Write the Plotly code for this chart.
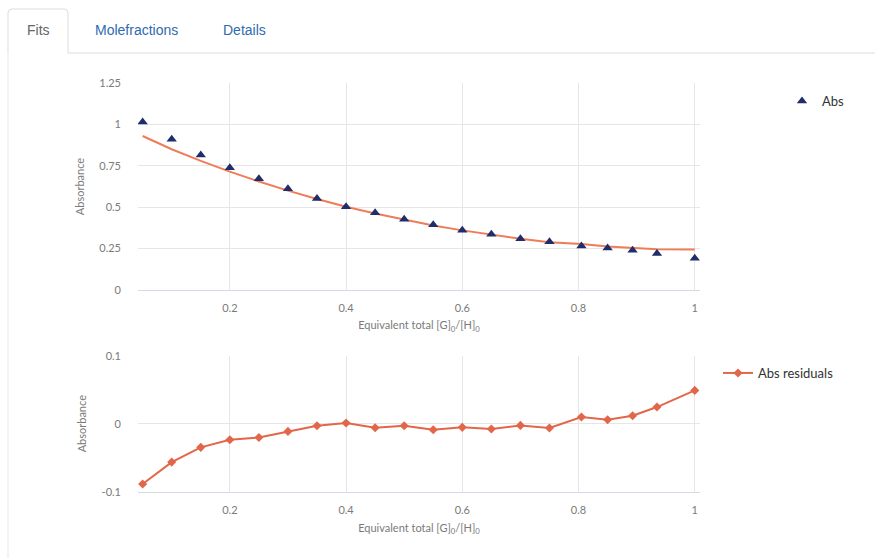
import plotly.graph_objects as go

# ---- data ----
equiv = [0.05, 0.10, 0.15, 0.20, 0.25, 0.30, 0.35, 0.40, 0.45, 0.50,
         0.55, 0.60, 0.65, 0.70, 0.75, 0.805, 0.85, 0.893, 0.935, 1.00]
abs_obs = [1.015, 0.91, 0.815, 0.738, 0.672, 0.612, 0.552, 0.502, 0.467, 0.427,
           0.394, 0.361, 0.336, 0.31, 0.292, 0.266, 0.253, 0.24, 0.22, 0.191]
abs_fit = [0.93, 0.85, 0.78, 0.715, 0.655, 0.60, 0.55, 0.503, 0.462, 0.425,
           0.39, 0.36, 0.333, 0.31, 0.288, 0.278, 0.262, 0.252, 0.246, 0.245]
abs_resid = [-0.0887, -0.0565, -0.0348, -0.0235, -0.0202, -0.0113, -0.003, 0.001, -0.006, -0.003,
             -0.009, -0.0054, -0.0078, -0.0025, -0.0064, 0.0098, 0.0059, 0.0118, 0.0245, 0.049]

x_ticks = [0.2, 0.4, 0.6, 0.8, 1.0]
x_ticklabels = ["0.2", "0.4", "0.6", "0.8", "1"]
y1_ticks = [0, 0.25, 0.5, 0.75, 1.0, 1.25]
y1_ticklabels = ["0", "0.25", "0.5", "0.75", "1", "1.25"]
y2_ticks = [-0.1, 0, 0.1]
y2_ticklabels = ["-0.1", "0", "0.1"]
tabs = ["Fits", "Molefractions", "Details"]

W, H = 875, 558
def px(x): return x / W
def py(y): return 1 - y / H

NAVY = "#1f2d6b"
FIT = "#ef7c58"
RES = "#e2674a"
GRID = "#e6e6e6"
TICK = "#7a7a7a"
FONT = "Lato"

fig = go.Figure()
fig.add_trace(go.Scatter(x=equiv, y=abs_fit, mode="lines", line=dict(color=FIT, width=2),
                         showlegend=False, xaxis="x", yaxis="y", hoverinfo="skip"))
fig.add_trace(go.Scatter(x=equiv, y=abs_obs, mode="markers", name="Abs",
                         marker=dict(symbol="triangle-up", size=9, color=NAVY),
                         xaxis="x", yaxis="y", legend="legend"))
fig.add_trace(go.Scatter(x=equiv, y=abs_resid, mode="lines+markers", name="Abs residuals",
                         line=dict(color=RES, width=2),
                         marker=dict(symbol="diamond", size=7, color=RES),
                         xaxis="x2", yaxis="y2", legend="legend2"))

xrange = [0.042, 1.009]
tickfont = dict(family=FONT, size=11, color=TICK)
titlefont = dict(family=FONT, size=11, color=TICK)

common_x = dict(range=xrange, tickvals=x_ticks, ticktext=x_ticklabels, showgrid=True,
                gridcolor=GRID, gridwidth=1, zeroline=False, showline=True, linecolor="#d5dae4",
                ticks="", tickfont=tickfont, ticklabelstandoff=8, automargin=False)
common_y = dict(showgrid=True, gridcolor=GRID, gridwidth=1, zeroline=False, showline=False,
                ticks="", tickfont=tickfont, ticklabelstandoff=16, automargin=False)

fig.update_layout(
    width=W, height=H,
    margin=dict(l=0, r=0, t=0, b=0, pad=0, autoexpand=False),
    paper_bgcolor="white", plot_bgcolor="white",
    font=dict(family=FONT),
    xaxis=dict(domain=[px(138), px(700)], anchor="y",
               title=dict(text="Equivalent total [G]<sub>0</sub>/[H]<sub>0</sub>", font=titlefont, standoff=8),
               **common_x),
    yaxis=dict(domain=[py(290), py(83)], anchor="x", range=[0, 1.25],
               tickvals=y1_ticks, ticktext=y1_ticklabels,
               title=dict(text="Absorbance", font=titlefont, standoff=12),
               **common_y),
    xaxis2=dict(domain=[px(138), px(700)], anchor="y2",
                title=dict(text="Equivalent total [G]<sub>0</sub>/[H]<sub>0</sub>", font=titlefont, standoff=9),
                **common_x),
    yaxis2=dict(domain=[py(491.7), py(355.7)], anchor="x2", range=[-0.1, 0.1],
                tickvals=y2_ticks, ticktext=y2_ticklabels,
                title=dict(text="Absorbance", font=titlefont, standoff=12),
                **common_y),
    legend=dict(x=px(782), y=py(101), xanchor="left", yanchor="middle",
                font=dict(family=FONT, size=13, color="#333333"), itemwidth=30,
                bgcolor="rgba(0,0,0,0)"),
    legend2=dict(x=px(718), y=py(373), xanchor="left", yanchor="middle",
                 font=dict(family=FONT, size=13, color="#333333"), itemwidth=30,
                 bgcolor="rgba(0,0,0,0)"),
    showlegend=True,
)

# tab frame
BORDER = "#dddddd"
fig.add_shape(type="path", xref="paper", yref="paper",
              path=f"M {px(8)} {py(53)} L {px(8)} {py(13)} Q {px(8)} {py(9)} {px(12)} {py(9)} "
                   f"L {px(64)} {py(9)} Q {px(68)} {py(9)} {px(68)} {py(13)} L {px(68)} {py(53)}",
              line=dict(color=BORDER, width=1))
fig.add_shape(type="line", xref="paper", yref="paper", x0=px(68), x1=px(875), y0=py(53), y1=py(53),
              line=dict(color=BORDER, width=1))
fig.add_shape(type="line", xref="paper", yref="paper", x0=px(8), x1=px(8), y0=py(53), y1=py(558),
              line=dict(color="#e8e8e8", width=1))

tab_x = [38, 136, 244]
tab_colors = ["#666666", "#2f6bb0", "#2f6bb0"]
for t, x, c in zip(tabs, tab_x, tab_colors):
    fig.add_annotation(text=t, x=px(x), y=py(30), xref="paper", yref="paper",
                       showarrow=False, xanchor="center", yanchor="middle",
                       font=dict(family="Liberation Sans", size=14, color=c))

fig.write_html("out.html")
